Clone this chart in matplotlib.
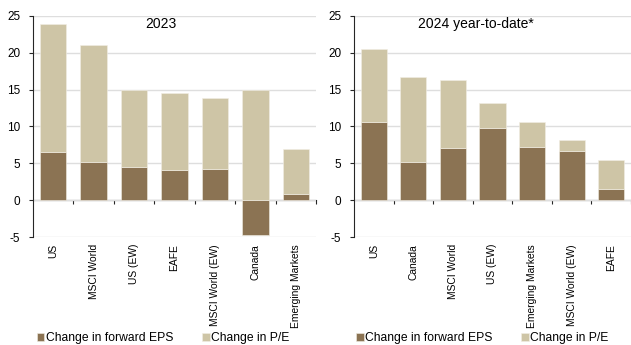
import matplotlib
matplotlib.use("Agg")
import matplotlib.pyplot as plt
import numpy as np

plt.rcParams["font.family"] = ["Liberation Sans", "DejaVu Sans"]
plt.rcParams["axes.unicode_minus"] = False

# data
cats_23 = ["US", "MSCI World", "US (EW)", "EAFE", "MSCI World (EW)", "Canada", "Emerging Markets"]
eps_23 = [6.5, 5.2, 4.5, 4.1, 4.2, -4.75, 0.8]
pe_23 = [17.4, 15.8, 10.5, 10.5, 9.7, 15.0, 6.1]

cats_24 = ["US", "Canada", "MSCI World", "US (EW)", "Emerging Markets", "MSCI World (EW)", "EAFE"]
eps_24 = [10.6, 5.2, 7.1, 9.8, 7.2, 6.7, 1.5]
pe_24 = [9.9, 11.5, 9.2, 3.4, 3.4, 1.4, 3.95]

c_eps = "#8B7353"
c_pe = "#CEC5A6"

fig = plt.figure(figsize=(6.31, 3.45), dpi=100)
ax1 = fig.add_axes([0.052, 0.313, 0.449, 0.641])
ax2 = fig.add_axes([0.561, 0.313, 0.439, 0.641])


def panel(ax, cats, eps, pe, title, tx, leg_x):
    x = np.arange(len(cats))
    eps = np.array(eps)
    pe = np.array(pe)
    ax.bar(x, eps, width=0.66, color=c_eps, edgecolor="#f2eee4", linewidth=0.4,
           label="Change in forward EPS", zorder=3)
    ax.bar(x, pe, bottom=np.maximum(eps, 0), width=0.66, color=c_pe,
           edgecolor="#f2eee4", linewidth=0.4, label="Change in P/E", zorder=3)
    ax.set_xlim(-0.5, len(cats) - 0.5)
    ax.set_ylim(-5, 25)
    ax.set_yticks(range(-5, 26, 5))
    ax.yaxis.grid(True, color="#dedede", linewidth=1.0, zorder=0)
    ax.set_axisbelow(True)
    for s in ["top", "right", "bottom"]:
        ax.spines[s].set_visible(False)
    ax.spines["left"].set_color("#262626")
    ax.spines["left"].set_linewidth(0.8)
    ax.tick_params(axis="y", length=3, width=0.8, color="#262626", pad=6,
                   labelsize=8.5)
    ax.set_xticks(x)
    ax.set_xticklabels(cats, rotation=90, fontsize=7.4, va="top")
    ax.tick_params(axis="x", length=0, pad=5)

    # zero line with tick marks between categories
    sec = ax.secondary_xaxis(1 / 6)
    sec.set_xticks(np.arange(len(cats)) + 0.5)
    sec.set_xticklabels([])
    sec.tick_params(length=3, width=0.8, color="#262626", direction="out")
    sec.spines["bottom"].set_color("#262626")
    sec.spines["bottom"].set_linewidth(0.8)

    ax.text(tx, 0.995, title, transform=ax.transAxes, ha="center", va="top",
            fontsize=10)
    ax.legend(loc="center left", bbox_to_anchor=(leg_x, 0.02),
              bbox_transform=fig.transFigure, ncol=2, frameon=False,
              fontsize=8.7, handlelength=0.65, handleheight=0.65,
              handletextpad=0.12, columnspacing=2.35, borderpad=0,
              borderaxespad=0)


panel(ax1, cats_23, eps_23, pe_23, "2023", 0.452, 0.058)
panel(ax2, cats_24, eps_24, pe_24, "2024 year-to-date*", 0.44, 0.564)

fig.savefig("out.png", dpi=100)
